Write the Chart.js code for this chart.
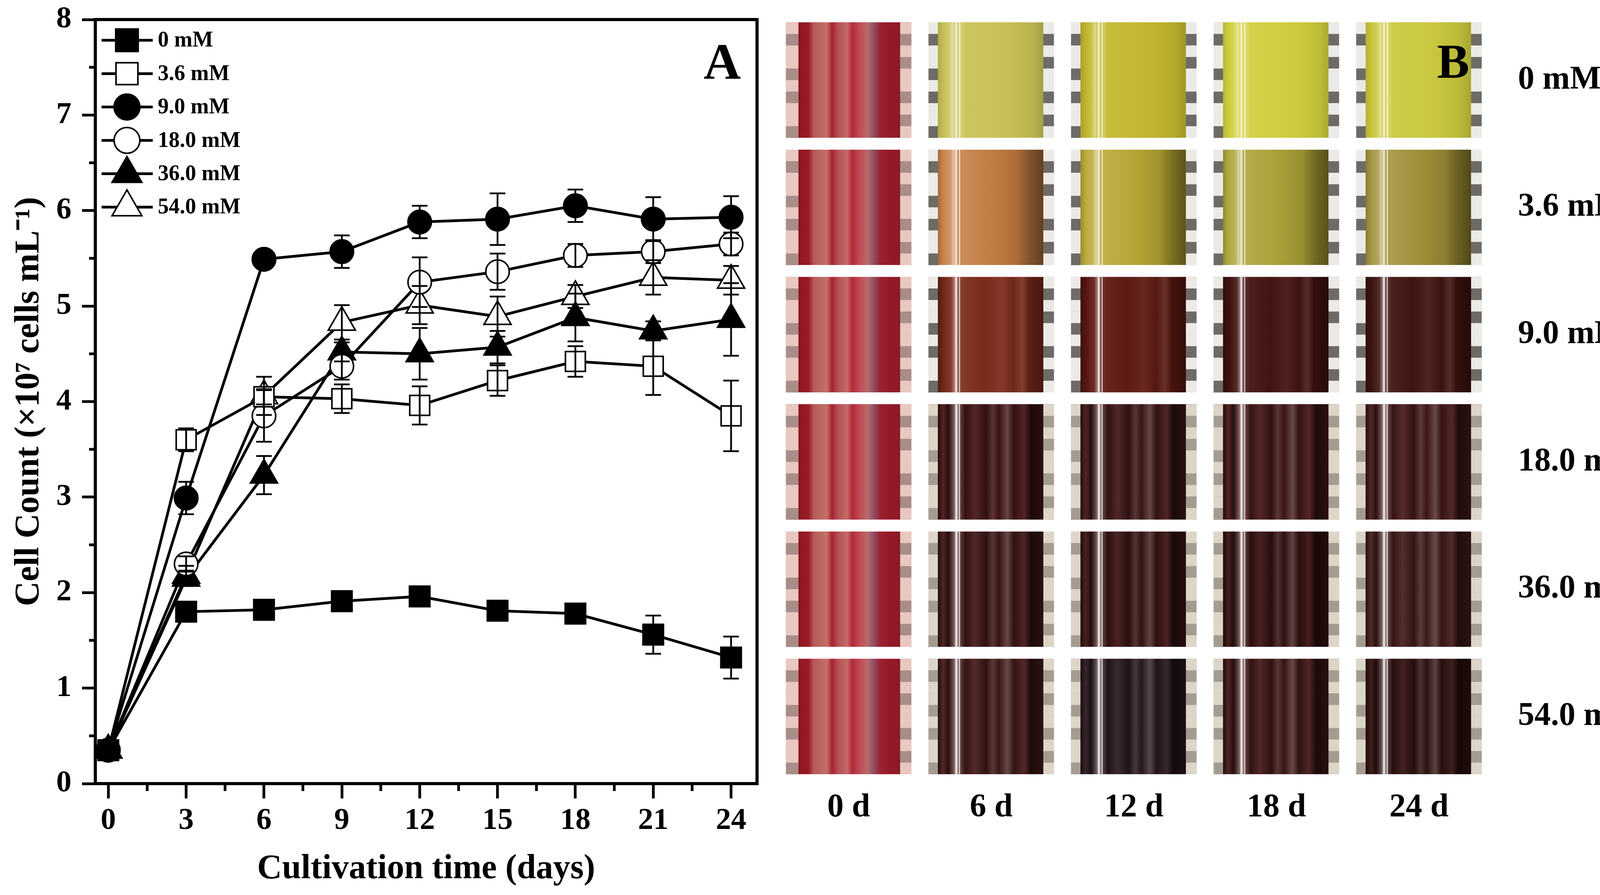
<!DOCTYPE html>
<html>
<head>
<meta charset="utf-8">
<script src="https://cdn.jsdelivr.net/npm/chart.js@4.4.1/dist/chart.umd.js"></script>
<style>
html,body{margin:0;padding:0;background:#fff;}
#wrap{position:relative;width:4211px;height:2290px;background:#fff;overflow:hidden;}
#boxA{position:absolute;left:0;top:0;width:2000px;height:2290px;}
#boxB{position:absolute;left:1960px;top:0;width:2251px;height:2290px;}
</style>
</head>
<body>
<div id="wrap">
  <div id="boxA"><canvas id="cA"></canvas></div>
  <div id="boxB"><canvas id="cB"></canvas></div>
</div>
<script>
// ---------------- DATA (panel A) ----------------
const days = [0, 3, 6, 9, 12, 15, 18, 21, 24];
const seriesLabels = ['0 mM', '3.6 mM', '9.0 mM', '18.0 mM', '36.0 mM', '54.0 mM'];
const count0   = [0.35, 1.80, 1.82, 1.91, 1.96, 1.81, 1.78, 1.56, 1.32];
const err0     = [0.05, 0.05, 0.05, 0.06, 0.10, 0.05, 0.10, 0.20, 0.22];
const count3_6 = [0.35, 3.60, 4.05, 4.03, 3.96, 4.22, 4.42, 4.37, 3.85];
const err3_6   = [0.05, 0.12, 0.08, 0.15, 0.20, 0.16, 0.16, 0.30, 0.37];
const count9   = [0.35, 2.99, 5.49, 5.57, 5.88, 5.91, 6.05, 5.91, 5.93];
const err9     = [0.05, 0.17, 0.05, 0.17, 0.17, 0.27, 0.17, 0.23, 0.22];
const count18  = [0.35, 2.30, 3.85, 4.37, 5.25, 5.36, 5.53, 5.57, 5.65];
const err18    = [0.05, 0.08, 0.27, 0.14, 0.26, 0.19, 0.12, 0.12, 0.12];
const count36  = [0.35, 2.15, 3.23, 4.52, 4.50, 4.57, 4.88, 4.74, 4.86];
const err36    = [0.05, 0.08, 0.20, 0.10, 0.27, 0.17, 0.25, 0.10, 0.38];
const count54  = [0.35, 2.18, 4.06, 4.83, 5.01, 4.89, 5.10, 5.30, 5.27];
const err54    = [0.05, 0.10, 0.20, 0.18, 0.20, 0.21, 0.12, 0.18, 0.15];
const xTickValues = [0, 3, 6, 9, 12, 15, 18, 21, 24];
const xMinorTicks = [1.5, 4.5, 7.5, 10.5, 13.5, 16.5, 19.5, 22.5];
const yTickValues = [0, 1, 2, 3, 4, 5, 6, 7, 8];
const yMinorTicks = [0.5, 1.5, 2.5, 3.5, 4.5, 5.5, 6.5, 7.5];

// ---------------- DATA (panel B) ----------------
const tubeDays = ['0 d', '6 d', '12 d', '18 d', '24 d'];
const tubeConcs = ['0 mM', '3.6 mM', '9.0 mM', '18.0 mM', '36.0 mM', '54.0 mM'];
const tubeColours = [
  ['#a8303c', '#c9c256', '#c2b82e', '#d0cf3e', '#cac93e'],
  ['#a8303c', '#c47c42', '#b8a634', '#aaa236', '#a09038'],
  ['#a8303c', '#7e2c1c', '#601a14', '#461412', '#421612'],
  ['#a8303c', '#4a1818', '#461a1a', '#4a1a1a', '#4c1c1c'],
  ['#a8303c', '#461a1a', '#401616', '#3c1414', '#4a2020'],
  ['#a8303c', '#4a1c1c', '#2e1c22', '#461a1a', '#361414']
];

// ---------------- STYLES ----------------
const FONT = "'Liberation Serif', 'Times New Roman', serif";
const seriesValues = [count0, count3_6, count9, count18, count36, count54];
const seriesErrors = [err0, err3_6, err9, err18, err36, err54];
const markerStyles = [
  {style: 'rect', r: 37, fill: '#000'},
  {style: 'rect', r: 36, fill: '#fff'},
  {style: 'circle', r: 30, fill: '#000'},
  {style: 'circle', r: 30, fill: '#fff'},
  {style: 'triangle', r: 40, fill: '#000'},
  {style: 'triangle', r: 40, fill: '#fff'}
];
const dayZeroStripes = [
  [0, '#8c1622'], [0.1, '#9a1a28'], [0.15, '#b65a58'], [0.28, '#c27268'], [0.33, '#a82232'],
  [0.39, '#b45058'], [0.48, '#c46c66'], [0.53, '#b02a3a'], [0.6, '#c24a55'], [0.68, '#b86a6c'],
  [0.74, '#8e5068'], [0.8, '#9c2232'], [0.9, '#941a28'], [1, '#8a1a26']
];
const profileLight = [[0,'k',0.12],[0.05,'k',0.02],[0.1,'w',0.1],[0.14,'w',0.45],[0.17,'w',0.1],[0.22,'w',0.25],[0.26,'w',0.05],[0.5,'w',0.02],[0.7,'k',0.02],[0.9,'k',0.08],[1,'k',0.18]];
const profileOlive = [[0,'k',0.15],[0.05,'w',0.05],[0.12,'w',0.2],[0.15,'w',0.55],[0.18,'w',0.15],[0.3,'w',0.08],[0.55,'k',0.02],[0.75,'k',0.12],[0.88,'k',0.35],[1,'k',0.5]];
const profileRed = [[0,'k',0.35],[0.06,'k',0.1],[0.13,'w',0.08],[0.17,'w',0.55],[0.2,'g',0.25],[0.25,'w',0.05],[0.45,'k',0.05],[0.6,'w',0.06],[0.72,'k',0.12],[0.8,'g',0.2],[0.86,'k',0.25],[1,'k',0.45]];
const profileDark = [[0,'k',0.5],[0.05,'w',0.05],[0.1,'k',0.45],[0.14,'g',0.35],[0.18,'w',0.6],[0.21,'g',0.35],[0.26,'k',0.3],[0.35,'w',0.06],[0.46,'k',0.35],[0.52,'g',0.25],[0.58,'k',0.2],[0.66,'g',0.4],[0.72,'k',0.3],[0.82,'w',0.05],[0.88,'k',0.6],[1,'k',0.4]];
const MIXT = {w: [255,255,255], k: [0,0,0], g: [150,140,140]};
const edgeTones = {pink: ['#e8c8c0', '#a88e88'], grey: ['#eceae6', '#6e6a66'], beige: ['#ddd5c8', '#a49c90']};
const edgePattern = [1, 0, 1, 1, 0, 1, 0, 1, 1, 0];
const highlightPos = [[0.165, 5], [0.2, 3]];

function hexToRgb(h){ h = h.replace('#',''); return [parseInt(h.slice(0,2),16), parseInt(h.slice(2,4),16), parseInt(h.slice(4,6),16)]; }
function mix(a, b, t){ return a.map((v,i) => Math.round(v + (b[i]-v)*t)); }
function rgb(a){ return 'rgb(' + a[0] + ',' + a[1] + ',' + a[2] + ')'; }

function drawMarker(ctx, style, x, y, r, fill, bw){
  ctx.beginPath();
  if (style === 'rect') { const s = r*Math.SQRT1_2; ctx.rect(x-s, y-s, 2*s, 2*s); }
  else if (style === 'circle') { ctx.arc(x, y, r, 0, Math.PI*2); }
  else { ctx.moveTo(x, y-r); ctx.lineTo(x + r*0.866, y + r/2); ctx.lineTo(x - r*0.866, y + r/2); ctx.closePath(); }
  ctx.fillStyle = fill; ctx.fill();
  ctx.lineWidth = bw; ctx.strokeStyle = '#000'; ctx.stroke();
}
function fixV(w){ return s => { s.width = w; s.paddingTop = 0; s.paddingBottom = 0; }; }
function fixH(h){ return s => { s.height = h; s.paddingLeft = 0; s.paddingRight = 0; }; }

// ---------------- PANEL A ----------------
const datasetsA = seriesLabels.map((lab, i) => ({
  label: lab,
  data: days.map((d, j) => ({x: d, y: seriesValues[i][j]})),
  borderColor: '#000',
  borderWidth: 7,
  pointStyle: markerStyles[i].style,
  pointRadius: markerStyles[i].r,
  pointHoverRadius: markerStyles[i].r,
  pointBackgroundColor: markerStyles[i].fill,
  pointBorderColor: '#000',
  pointBorderWidth: 4,
  tension: 0,
  clip: false
}));

const boxPlugin = {
  id: 'boxA',
  afterDraw(chart){
    const {ctx, chartArea: ca, scales} = chart;
    ctx.save();
    ctx.strokeStyle = '#000';
    ctx.lineWidth = 8;
    ctx.lineCap = 'square';
    ctx.beginPath();
    ctx.moveTo(ca.left, ca.top); ctx.lineTo(ca.right, ca.top); ctx.lineTo(ca.right, ca.bottom);
    ctx.stroke();
    ctx.lineCap = 'butt';
    ctx.lineWidth = 7;
    yMinorTicks.forEach(v => { const y = scales.y.getPixelForValue(v); ctx.beginPath(); ctx.moveTo(ca.left - 16, y); ctx.lineTo(ca.left, y); ctx.stroke(); });
    xMinorTicks.forEach(v => { const x = scales.x.getPixelForValue(v); ctx.beginPath(); ctx.moveTo(x, ca.bottom); ctx.lineTo(x, ca.bottom + 19); ctx.stroke(); });
    // legend
    const lx0 = ca.left + 16, lx1 = ca.left + 147, mx = ca.left + 81, tx = ca.left + 160;
    ctx.font = 'bold 56px ' + FONT;
    ctx.textAlign = 'left'; ctx.textBaseline = 'middle';
    seriesLabels.forEach((lab, i) => {
      const y = ca.top + 53 + i*85.4;
      ctx.lineWidth = 7; ctx.strokeStyle = '#000';
      ctx.beginPath(); ctx.moveTo(lx0, y); ctx.lineTo(lx1, y); ctx.stroke();
      const m = markerStyles[i];
      drawMarker(ctx, m.style, mx, y, m.r*1.1, m.fill, 4);
      ctx.fillStyle = '#000';
      ctx.fillText(lab, tx, y + 2);
    });
    // panel letter
    ctx.font = 'bold 132px ' + FONT;
    ctx.textAlign = 'center'; ctx.textBaseline = 'middle';
    ctx.fillStyle = '#000';
    ctx.fillText('A', ca.right - 89, ca.top + 118);
    ctx.restore();
  }
};

const errorBarPlugin = {
  id: 'errorBars',
  afterDatasetsDraw(chart){
    const {ctx, scales} = chart;
    ctx.save();
    ctx.strokeStyle = '#000';
    ctx.lineWidth = 4.5;
    chart.data.datasets.forEach((ds, i) => {
      const meta = chart.getDatasetMeta(i);
      meta.data.forEach((pt, j) => {
        const v = seriesValues[i][j], e = seriesErrors[i][j];
        const x = pt.x;
        const yt = scales.y.getPixelForValue(v + e), yb = scales.y.getPixelForValue(v - e);
        ctx.beginPath();
        ctx.moveTo(x, yt); ctx.lineTo(x, yb);
        ctx.moveTo(x - 20, yt); ctx.lineTo(x + 20, yt);
        ctx.moveTo(x - 20, yb); ctx.lineTo(x + 20, yb);
        ctx.stroke();
      });
    });
    ctx.restore();
  }
};

new Chart(document.getElementById('cA'), {
  type: 'line',
  data: {datasets: datasetsA},
  options: {
    responsive: true, maintainAspectRatio: false, devicePixelRatio: 1, animation: false,
    layout: {padding: {left: 0, top: 50, right: 62, bottom: 0}},
    plugins: {legend: {display: false}, tooltip: {enabled: false}},
    scales: {
      x: {
        type: 'linear', min: -0.5, max: 25,
        afterBuildTicks: s => { s.ticks = xTickValues.map(v => ({value: v})); },
        afterFit: fixH(285),
        grid: {drawOnChartArea: false, drawTicks: true, tickLength: 38, tickWidth: 7, tickColor: '#000'},
        border: {display: true, color: '#000', width: 8},
        ticks: {color: '#000', font: {family: FONT, weight: 'bold', size: 78}, padding: 11, maxRotation: 0, autoSkip: false, callback: v => String(v)},
        title: {display: true, text: 'Cultivation time (days)', color: '#000', font: {family: FONT, weight: 'bold', size: 88}, padding: {top: 0, bottom: 13}}
      },
      y: {
        type: 'linear', min: 0, max: 8,
        afterBuildTicks: s => { s.ticks = yTickValues.map(v => ({value: v})); },
        afterFit: fixV(244),
        grid: {drawOnChartArea: false, drawTicks: true, tickLength: 34, tickWidth: 7, tickColor: '#000'},
        border: {display: true, color: '#000', width: 8},
        ticks: {color: '#000', font: {family: FONT, weight: 'bold', size: 78}, padding: 27, autoSkip: false, callback: v => String(v)},
        title: {display: true, text: 'Cell Count (×10⁷ cells mL⁻¹)', color: '#000', font: {family: FONT, weight: 'bold', size: 88}, padding: {top: 22, bottom: 0}}
      }
    }
  },
  plugins: [errorBarPlugin, boxPlugin]
});

// ---------------- PANEL B ----------------
const TILE_HALF = 0.453;
const datasetsB = tubeConcs.map((c, r) => ({
  label: c,
  data: tubeDays.map(() => [r - TILE_HALF, r + TILE_HALF]),
  backgroundColor: tubeColours[r],
  borderWidth: 0,
  grouped: false,
  barPercentage: 0.88,
  categoryPercentage: 1
}));

function drawTube(ctx, L, T, W, H, r, c){
  ctx.save();
  const eL = W*(c === 0 ? 0.1 : 0.075), eR = W*(c === 0 ? 0.09 : 0.085);
  const ec = c === 0 ? edgeTones.pink : (r <= 2 ? edgeTones.grey : edgeTones.beige);
  const n = edgePattern.length, bh = H/n;
  for (let k = 0; k < n; k++) {
    ctx.fillStyle = edgePattern[k] ? ec[0] : ec[1];
    ctx.fillRect(L, T + k*bh, eL, bh + 0.5);
    ctx.fillStyle = edgePattern[(k + 3) % n] ? ec[0] : ec[1];
    ctx.fillRect(L + W - eR, T + k*bh, eR, bh + 0.5);
  }
  const bx = L + eL, bw = W - eL - eR;
  const g = ctx.createLinearGradient(bx, 0, bx + bw, 0);
  if (c === 0) {
    dayZeroStripes.forEach(s => g.addColorStop(s[0], s[1]));
  } else {
    const base = hexToRgb(tubeColours[r][c]);
    const prof = r === 0 ? profileLight : (r === 1 ? profileOlive : (r === 2 ? profileRed : profileDark));
    prof.forEach(s => g.addColorStop(s[0], rgb(mix(base, MIXT[s[1]], s[2]))));
  }
  ctx.fillStyle = g;
  ctx.fillRect(bx, T, bw, H);
  if (c > 0) {
    ctx.fillStyle = 'rgba(255,255,255,0.7)';
    highlightPos.forEach(h => ctx.fillRect(bx + bw*h[0], T, h[1], H));
  }
  ctx.restore();
}

const tilePlugin = {
  id: 'tiles',
  afterDatasetsDraw(chart){
    const ctx = chart.ctx;
    chart.data.datasets.forEach((ds, r) => {
      const meta = chart.getDatasetMeta(r);
      meta.data.forEach((el, c) => {
        const p = el.getProps(['x', 'y', 'base', 'width'], true);
        const L = p.x - p.width/2;
        const T = Math.min(p.y, p.base), H = Math.abs(p.base - p.y);
        drawTube(ctx, L, T, p.width, H, r, c);
      });
    });
  },
  afterDraw(chart){
    const {ctx, chartArea: ca} = chart;
    ctx.save();
    ctx.font = 'bold 124px ' + FONT;
    ctx.textAlign = 'center'; ctx.textBaseline = 'middle';
    ctx.fillStyle = '#000';
    ctx.fillText('B', ca.right - 95, ca.top + 125);
    ctx.restore();
  }
};

new Chart(document.getElementById('cB'), {
  type: 'bar',
  data: {labels: tubeDays, datasets: datasetsB},
  options: {
    responsive: true, maintainAspectRatio: false, devicePixelRatio: 1, animation: false,
    layout: {padding: {left: 30, top: 42, right: 0, bottom: 0}},
    plugins: {legend: {display: false}, tooltip: {enabled: false}},
    scales: {
      x: {
        type: 'category', offset: true,
        afterFit: fixH(294),
        grid: {display: false}, border: {display: false},
        ticks: {color: '#000', font: {family: FONT, weight: 'bold', size: 84}, padding: 13, maxRotation: 0, autoSkip: false}
      },
      y: {
        type: 'linear', position: 'right', min: -0.5, max: 5.5, reverse: true,
        afterBuildTicks: s => { s.ticks = tubeConcs.map((_, i) => ({value: i})); },
        afterFit: fixV(396),
        grid: {display: false}, border: {display: false},
        ticks: {color: '#000', font: {family: FONT, weight: 'bold', size: 84}, padding: 63, autoSkip: false, callback: v => tubeConcs[v]}
      }
    }
  },
  plugins: [tilePlugin]
});
</script>
</body>
</html>
